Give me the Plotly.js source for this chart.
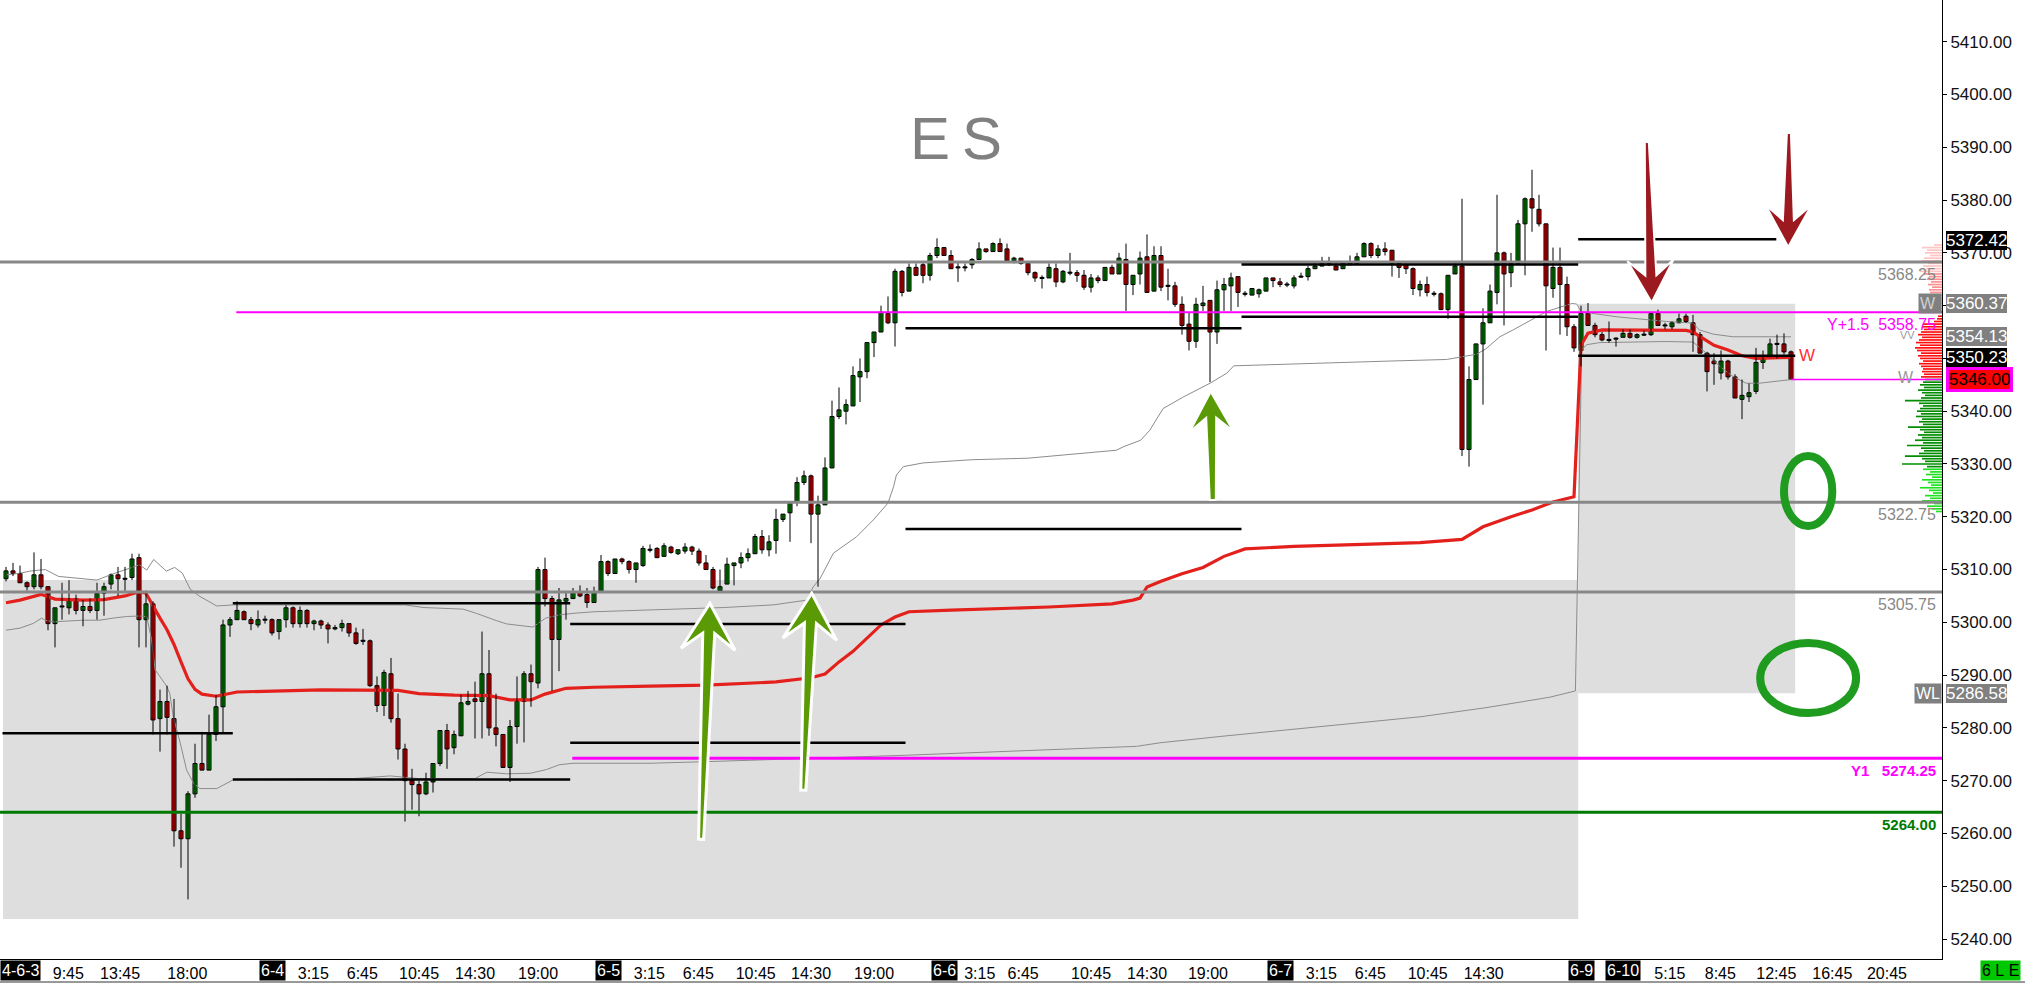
<!DOCTYPE html>
<html>
<head>
<meta charset="utf-8">
<script src="https://cdn.plot.ly/plotly-3.0.1.min.js"></script>
<style>
  html, body { margin: 0; padding: 0; background: #ffffff; }
  #chart { width: 2025px; height: 983px; }
</style>
</head>
<body>
<div id="chart"></div>
<script>
// ES 30-minute bars, 6-3 through 6-10 (bar index on the x axis)
const opens = [
  5308.25,5309.75,5309.25,5307.5,5306.75,5309.0,5306.75,5299.75,5303.0,5302.75,
  5304.5,5302.25,5303.0,5302.25,5305.5,5307.25,5309.0,5308.25,5308.5,5312.25,
  5300.5,5303.5,5281.75,5285.0,5281.75,5260.5,5259.0,5267.5,5273.25,5272.0,
  5278.75,5284.0,5299.5,5300.5,5302.0,5300.5,5299.5,5300.5,5300.5,5298.25,
  5300.5,5302.75,5299.75,5302.25,5299.75,5300.25,5299.5,5298.75,5299.0,5299.75,
  5298.0,5296.5,5296.5,5288.0,5284.25,5290.25,5281.75,5276.0,5270.0,5269.25,
  5267.5,5269.75,5273.25,5279.5,5276.25,5278.5,5284.5,5285.5,5285.0,5290.25,
  5280.0,5278.75,5272.5,5280.25,5285.0,5290.25,5288.5,5310.0,5304.5,5296.75,
  5304.0,5304.5,5305.75,5305.25,5303.75,5305.75,5311.5,5309.25,5312.0,5311.5,
  5310.0,5310.75,5313.75,5314.0,5312.5,5314.25,5313.0,5313.5,5314.25,5313.5,
  5311.25,5310.0,5306.0,5307.25,5310.75,5311.25,5312.25,5313.0,5316.25,5313.75,
  5315.5,5319.5,5320.75,5322.75,5326.5,5327.75,5320.5,5322.25,5329.25,5339.0,
  5340.0,5341.0,5346.5,5347.5,5353.0,5355.0,5358.5,5356.75,5366.5,5362.75,
  5367.25,5367.75,5365.75,5369.5,5371.0,5369.5,5367.25,5367.25,5367.75,5368.75,
  5370.75,5370.25,5371.75,5370.75,5368.5,5369.0,5368.0,5366.25,5365.25,5365.25,
  5367.0,5364.5,5366.25,5366.25,5365.75,5363.5,5365.25,5364.75,5367.25,5366.0,
  5368.75,5364.0,5366.0,5369.25,5362.75,5369.5,5363.75,5363.75,5360.25,5356.5,
  5353.25,5360.0,5361.0,5355.0,5363.0,5363.75,5365.5,5362.25,5362.0,5362.25,
  5362.75,5365.25,5364.5,5364.0,5363.75,5365.5,5365.5,5367.0,5367.5,5368.0,
  5367.5,5367.0,5367.75,5368.0,5369.25,5371.75,5369.5,5370.75,5370.5,5368.0,
  5367.75,5367.0,5363.0,5364.0,5362.25,5362.25,5359.25,5366.0,5367.5,5332.75,
  5346.0,5352.75,5356.75,5362.5,5370.0,5366.25,5368.0,5375.5,5380.25,5378.25,
  5375.5,5363.25,5367.25,5364.0,5356.0,5351.5,5358.5,5356.25,5354.5,5353.5,
  5353.75,5354.0,5354.75,5354.0,5354.5,5354.5,5358.5,5356.25,5356.0,5356.75,
  5358.0,5356.75,5354.5,5351.0,5349.5,5347.25,5349.5,5346.5,5342.25,5342.75,
  5343.75,5349.25,5350.25,5352.75,5352.75,5351.25
];
const highs = [
  5310.5,5311.25,5310.75,5307.75,5313.25,5312.0,5306.75,5302.75,5307.5,5308.0,
  5305.25,5304.25,5304.5,5307.5,5307.5,5309.25,5310.5,5310.5,5313.0,5313.0,
  5306.0,5304.0,5287.25,5288.0,5285.5,5263.75,5268.0,5277.0,5279.25,5282.5,
  5286.25,5300.5,5301.0,5304.0,5302.25,5301.0,5302.25,5301.25,5300.75,5300.5,
  5303.25,5303.0,5303.0,5302.5,5300.5,5300.5,5300.0,5299.5,5300.5,5299.75,
  5299.0,5298.75,5296.75,5289.75,5291.0,5293.25,5286.5,5277.0,5272.25,5270.0,
  5271.5,5273.25,5279.5,5280.75,5279.5,5286.25,5287.0,5288.75,5298.25,5294.75,
  5286.5,5278.75,5281.5,5289.75,5290.75,5292.0,5310.5,5312.25,5305.0,5306.5,
  5305.75,5306.5,5307.0,5306.5,5306.75,5312.75,5311.75,5312.0,5312.25,5311.75,
  5311.25,5314.5,5314.75,5314.25,5315.0,5314.5,5313.75,5315.0,5314.5,5314.0,
  5312.75,5310.5,5310.0,5312.25,5311.25,5313.25,5314.0,5316.75,5317.5,5316.5,
  5321.5,5320.5,5322.75,5327.5,5328.75,5328.0,5324.0,5331.25,5342.0,5344.5,
  5342.25,5348.5,5350.0,5353.0,5355.0,5360.0,5361.75,5367.0,5366.75,5368.0,
  5368.0,5368.25,5370.0,5372.75,5371.0,5370.5,5368.25,5368.0,5369.0,5372.0,
  5370.75,5372.0,5372.75,5371.75,5369.25,5369.0,5368.25,5366.5,5365.75,5368.0,
  5368.0,5366.75,5370.0,5366.75,5366.75,5366.0,5365.75,5367.25,5367.75,5370.0,
  5371.75,5365.75,5370.25,5373.5,5371.25,5371.25,5367.0,5364.5,5361.75,5358.75,
  5361.5,5363.75,5361.0,5364.75,5365.25,5366.25,5365.5,5362.75,5363.25,5363.25,
  5365.25,5365.25,5365.25,5364.5,5365.75,5366.25,5367.5,5368.25,5369.25,5369.25,
  5368.0,5368.25,5369.5,5370.0,5372.0,5372.0,5371.5,5372.0,5370.5,5368.25,
  5368.0,5367.25,5364.75,5365.5,5362.75,5362.5,5365.75,5368.0,5380.25,5348.5,
  5352.75,5359.5,5364.0,5381.0,5370.25,5370.0,5376.25,5380.5,5385.75,5381.0,
  5375.5,5371.0,5371.0,5365.5,5356.5,5360.0,5360.5,5356.75,5355.0,5357.0,
  5354.0,5355.5,5355.5,5354.75,5355.25,5358.5,5359.25,5356.75,5357.0,5358.5,
  5358.5,5358.25,5355.0,5351.25,5351.0,5351.5,5349.75,5347.0,5346.0,5345.25,
  5352.0,5351.5,5353.75,5354.5,5354.75,5351.5
];
const lows = [
  5307.75,5308.75,5307.5,5306.0,5306.25,5306.25,5298.5,5295.25,5300.5,5301.5,
  5301.5,5299.25,5301.75,5300.5,5301.25,5306.25,5305.0,5306.0,5308.0,5295.25,
  5295.25,5278.75,5275.5,5278.75,5257.5,5253.5,5247.5,5266.75,5272.0,5272.0,
  5277.5,5279.0,5297.25,5300.5,5300.5,5298.5,5299.0,5299.75,5297.5,5296.75,
  5299.0,5299.0,5299.0,5299.0,5298.5,5298.75,5296.0,5298.5,5298.25,5297.25,
  5295.75,5295.75,5287.75,5283.0,5282.25,5281.0,5274.0,5262.25,5264.5,5263.25,
  5267.25,5267.75,5272.75,5272.25,5275.0,5278.5,5284.25,5278.0,5278.0,5278.5,
  5276.5,5272.5,5269.75,5277.0,5277.25,5284.0,5287.5,5303.0,5287.0,5290.75,
  5300.5,5304.5,5304.75,5302.75,5303.75,5305.75,5308.75,5309.25,5311.0,5309.25,
  5307.5,5310.5,5313.25,5312.25,5312.5,5313.0,5312.75,5313.0,5312.75,5310.75,
  5310.0,5306.25,5306.0,5307.25,5307.0,5310.25,5311.5,5313.0,5313.0,5312.5,
  5313.0,5319.0,5315.25,5322.0,5326.0,5315.0,5306.75,5322.25,5329.25,5338.5,
  5337.5,5341.0,5341.75,5346.25,5350.25,5355.0,5356.5,5352.25,5361.75,5362.75,
  5365.75,5364.25,5364.75,5369.0,5369.5,5367.0,5364.5,5366.5,5367.0,5368.75,
  5370.0,5370.25,5370.25,5368.5,5368.0,5367.75,5365.75,5364.5,5363.25,5365.25,
  5363.5,5364.25,5365.75,5364.5,5363.0,5362.5,5364.25,5364.75,5366.0,5366.0,
  5359.0,5362.0,5364.0,5362.5,5362.75,5362.75,5361.0,5359.75,5354.5,5351.5,
  5352.0,5359.0,5345.5,5352.75,5359.0,5359.0,5359.75,5361.75,5362.0,5361.5,
  5362.75,5363.5,5363.5,5363.5,5363.25,5365.25,5364.75,5367.0,5367.5,5367.5,
  5366.75,5367.0,5367.75,5368.0,5369.25,5369.0,5369.0,5369.5,5365.5,5365.25,
  5366.0,5362.0,5361.75,5361.75,5361.75,5359.25,5357.5,5366.0,5331.5,5329.5,
  5346.0,5341.25,5356.75,5360.25,5356.25,5363.5,5368.0,5365.75,5374.0,5375.0,
  5351.5,5361.5,5354.5,5354.25,5351.25,5348.5,5356.25,5354.0,5353.25,5353.0,
  5352.25,5354.0,5353.75,5353.75,5354.25,5354.25,5356.25,5355.5,5355.5,5356.75,
  5356.75,5351.25,5351.0,5343.75,5345.0,5346.0,5346.0,5342.5,5338.5,5341.75,
  5343.25,5348.0,5350.25,5350.0,5350.75,5346.0
];
const closes = [
  5309.75,5309.25,5307.5,5306.75,5309.0,5306.75,5299.75,5302.75,5303.0,5304.5,
  5302.25,5303.0,5302.25,5305.5,5306.75,5309.0,5308.25,5308.25,5312.0,5300.5,
  5303.5,5281.5,5285.0,5282.0,5260.5,5259.0,5267.5,5273.25,5272.0,5278.75,
  5284.0,5299.5,5300.5,5302.25,5300.5,5299.75,5300.5,5300.5,5298.0,5300.5,
  5302.75,5299.75,5302.25,5299.75,5300.25,5299.5,5298.75,5299.0,5299.75,5298.0,
  5296.0,5296.5,5288.0,5284.25,5290.5,5281.75,5276.0,5270.0,5269.25,5267.5,
  5269.75,5273.25,5279.5,5276.0,5278.75,5284.75,5285.0,5285.0,5290.25,5280.0,
  5278.75,5272.5,5280.25,5285.0,5290.25,5288.75,5310.0,5304.5,5296.75,5304.25,
  5304.5,5305.75,5305.0,5303.75,5305.75,5311.5,5309.25,5312.0,5311.5,5310.0,
  5311.25,5314.0,5313.75,5312.25,5314.5,5313.25,5313.75,5314.25,5313.5,5311.25,
  5310.0,5306.5,5306.75,5311.0,5311.25,5312.25,5313.0,5316.25,5313.75,5315.25,
  5319.5,5320.5,5322.75,5326.5,5327.75,5320.5,5322.25,5329.25,5339.0,5340.25,
  5341.25,5346.75,5347.5,5353.0,5355.0,5358.75,5356.75,5366.5,5362.5,5367.25,
  5365.75,5365.75,5369.5,5371.0,5369.5,5367.0,5367.25,5367.25,5368.75,5370.75,
  5370.25,5371.75,5370.25,5368.5,5369.0,5368.0,5366.25,5365.25,5365.25,5367.25,
  5364.5,5366.5,5366.25,5365.75,5363.5,5365.25,5364.75,5367.25,5366.0,5369.0,
  5364.0,5365.75,5369.0,5362.5,5369.5,5363.5,5363.75,5360.25,5356.25,5353.25,
  5360.25,5360.5,5355.0,5363.0,5364.0,5365.25,5362.5,5362.25,5363.25,5363.0,
  5365.25,5364.75,5364.0,5364.0,5365.25,5365.5,5367.0,5367.5,5368.0,5367.75,
  5366.75,5368.0,5368.0,5369.25,5371.75,5369.5,5370.75,5370.25,5368.0,5367.25,
  5367.0,5363.25,5364.0,5362.5,5362.25,5359.25,5365.75,5367.5,5332.75,5346.0,
  5352.75,5356.75,5362.75,5370.0,5366.0,5368.0,5375.5,5380.25,5378.5,5375.5,
  5363.75,5367.25,5364.0,5356.0,5352.0,5358.5,5356.25,5354.5,5353.5,5353.5,
  5353.75,5354.75,5354.0,5354.5,5354.5,5358.5,5356.25,5356.25,5356.75,5357.5,
  5357.0,5354.5,5351.0,5347.5,5349.0,5349.5,5346.5,5342.5,5343.0,5343.5,
  5349.25,5350.25,5352.75,5352.75,5351.25,5346.0
];

// Volume-weighted average price and its bands (bar index, price)
const vwapX = [0,2,5,7,11,14,17,19,20,21,22,23,24,25,26,27,28,30,33,45,56,59,64,69,72,75,77,80,84,92,100,110,115,117,119,121,123,125,127,129,135,149,158,161,162,163,165,168,171,174,177,184,195,202,208,211,215,218,221,224,225,226,228,235,240,241,242,243,244,246,248,250,252,255];
const vwapY = [5303.7,5304.2,5305.3,5304.4,5304.2,5304.3,5305.0,5305.8,5305.5,5303.0,5300.8,5298.6,5295.8,5292.5,5289.3,5287.3,5286.4,5286.0,5286.8,5287.2,5287.1,5286.5,5286.2,5286.1,5285.3,5285.3,5286.4,5287.5,5287.7,5287.9,5288.1,5288.7,5289.5,5290.2,5292.5,5294.5,5297.0,5299.5,5301.0,5302.0,5302.3,5302.9,5303.5,5304.2,5304.6,5306.7,5307.8,5309.2,5310.4,5312.5,5313.9,5314.4,5314.8,5315.1,5315.7,5318.1,5320.0,5321.3,5322.8,5323.8,5352.5,5354.8,5355.4,5355.4,5355.3,5355.0,5354.2,5353.3,5352.5,5351.6,5350.5,5350.0,5350.1,5350.2];
const upperX = [0,2,3.4,5.6,7.5,10.6,13,14.9,17.7,19.1,20.1,21.1,22.9,24.1,25.2,26.3,27.7,30.1,32.5,57,59.7,61.6,65.3,67.2,68.7,70.1,71.5,73.9,75.3,76,77.1,79,81,84,92,95.3,102.5,109.6,114.4,115.3,116.3,118.2,119.2,121.5,123.9,126,126.8,127.2,128.2,131,137.9,146,158.6,159.7,162.1,163.4,165.3,168.2,172,174.4,175.4,182,185.8,197.7,205.8,207.7,210.1,211.5,213.4,215.3,218.2,220.1,222,223.7,224.4,225,225.8,230,232.4,237.2,241,241.9,243.9,246.7,255];
const upperY = [5309.0,5309.3,5309.7,5310.0,5308.7,5308.3,5308.0,5309.0,5310.2,5310.9,5309.9,5311.9,5309.7,5310.4,5309.3,5306.3,5304.9,5303.1,5303.3,5303.3,5302.8,5302.7,5302.5,5301.7,5300.9,5300.3,5299.7,5299.3,5299.1,5299.8,5300.8,5301.4,5301.7,5302.0,5302.3,5302.4,5302.8,5303.3,5304.2,5306.7,5308.3,5313.1,5314.0,5316.2,5319.4,5322.6,5325.7,5327.9,5329.5,5330.2,5330.8,5331.1,5332.6,5333.3,5334.5,5336.4,5340.5,5342.7,5345.3,5347.2,5348.6,5348.9,5349.1,5349.5,5349.8,5350.3,5350.8,5351.9,5354.1,5355.4,5357.6,5358.9,5359.7,5360.4,5360.3,5358.9,5358.7,5357.9,5357.6,5357.0,5356.7,5355.4,5354.6,5354.1,5354.1];
const lowerX = [0,2,3.9,5.1,5.6,6.8,11,13.4,15.3,17.2,19.1,20.1,20.8,21.3,22,23,23.4,23.9,24.9,25.8,26.8,27.7,30.1,32.5,44.9,49.6,54.9,58.9,67,68.7,71.5,74.9,77.2,79,81,92,100,128.3,161.5,165,174.4,183.6,202,211.3,220.5,224.2,225.1,225.8,227.7,237.2,241,242.9,244.9,246.7,248.6,250.5,255];
const lowerY = [5298.5,5298.9,5299.8,5300.8,5300.4,5300.1,5300.4,5300.4,5300.8,5301.1,5301.2,5301.1,5296.7,5291.0,5289.7,5287.8,5286.5,5282.1,5277.1,5272.0,5269.5,5268.5,5268.5,5270.2,5270.4,5270.4,5270.9,5270.4,5270.4,5271.6,5271.3,5271.4,5272.1,5273.0,5273.3,5273.3,5273.6,5274.8,5276.5,5277.2,5278.5,5279.7,5282.1,5283.8,5285.8,5287.0,5351.6,5352.6,5353.0,5353.2,5353.1,5351.0,5348.4,5346.6,5345.3,5345.3,5346.0];

// Volume profile: bar length per half-point level, from 5371.5 down to 5321.0
const profileTop = 5371.5;
const profileLen = [8,20,15,17,12,18,20,14,19,16,22,18,13,15,11,14,10,13,12,9,14,11,16,12,10,6,0,4,5,8,
  19,20,18,21,24,20,23,26,22,27,25,21,24,22,19,23,21,19,20,18,21,17,
  19,22,18,24,20,17,21,37,23,19,22,25,21,26,20,23,19,34,22,18,24,20,27,19,35,21,18,23,37,20,17,40,15,
  19,12,16,10,20,14,11,22,13,9,17,12,20,8,15,10,6];

// Horizontal reference levels
const greyLevels = [5368.25, 5322.75, 5305.75];
const yHalfLevel = 5358.75;
const y1Level = 5274.25;
const supportLevel = 5264.00;
const lastPrice = 5346.00;
// Session high/low segments: [startIndex, endIndex, price]
const sessionLines = [
  [-0.5, 32.4, 5279.0], [32.4, 80.6, 5303.6], [32.4, 80.6, 5270.2],
  [80.6, 128.5, 5299.7], [80.6, 128.5, 5277.2], [128.5, 176.5, 5355.7],
  [128.5, 176.5, 5317.7], [176.5, 224.6, 5367.8], [176.5, 224.6, 5357.9],
  [224.6, 252.9, 5372.6], [224.6, 255.6, 5350.5]
];
// Weekly value areas: [startIndex, endIndex, low, high]
const valueBoxes = [[-0.43, 224.6, 5243.8, 5308.0], [224.6, 255.6, 5286.58, 5360.37]];

// Price markers on the right axis
const axisMarks = [
  {v: 5372.42, bg: '#000000', fg: '#ffffff'},
  {v: 5360.37, bg: '#808080', fg: '#ffffff'},
  {v: 5354.13, bg: '#808080', fg: '#ffffff'},
  {v: 5350.23, bg: '#000000', fg: '#ffffff'},
  {v: 5346.00, bg: '#ff0000', fg: '#000000', border: '#ff00ff'},
  {v: 5286.58, bg: '#808080', fg: '#ffffff'}
];

// Price scale labels (the ones under the 5350.23 / 5360.37 markers stay blank)
const yTickVals = [5240,5250,5260,5270,5280,5290,5300,5310,5320,5330,5340,5350,5360,5370,5380,5390,5400,5410];
const yTickText = ['5240.00','5250.00','5260.00','5270.00','5280.00','5290.00','5300.00','5310.00','5320.00','5330.00','5340.00','','','5370.00','5380.00','5390.00','5400.00','5410.00'];

// Time axis labels
const timeTickIdx = [8.9,16.3,25.9,43.9,50.9,59,67,76,91.9,98.9,107.1,115,124,139.1,145.3,155,163,171.7,187.9,194.9,203.1,211.1,237.7,244.9,252.9,260.9,268.7];
const timeTickText = ['9:45','13:45','18:00','3:15','6:45','10:45','14:30','19:00','3:15','6:45','10:45','14:30','19:00','3:15','6:45','10:45','14:30','19:00','3:15','6:45','10:45','14:30','5:15','8:45','12:45','16:45','20:45'];
const dateIdx = [2.0, 38.1, 86, 134, 182, 225.1, 231];
const dateText = ['4-6-3', '6-4', '6-5', '6-6', '6-7', '6-9', '6-10'];

// ---------- geometry ----------
const W = 2025, H = 983;
const M = {l: 0, r: 83, t: 0, b: 24};
const PW = W - M.l - M.r, PH = H - M.t - M.b;
const XR = [-0.857, 276.571];
const YR = [5236.21, 5417.91];
const toPx = ([x, y]) => [(x - XR[0]) / (XR[1] - XR[0]) * PW, (YR[1] - y) / (YR[1] - YR[0]) * PH];
const fromPx = ([px, py]) => [XR[0] + px / PW * (XR[1] - XR[0]), YR[1] - py / PH * (YR[1] - YR[0])];

const FONT = 'Liberation Sans, Arial, sans-serif';
const UP = '#00a000', DOWN = '#ff0000';

// ---------- traces ----------
const idx = opens.map((_, i) => i);
const bodyBase = [], bodyLen = [], bodyCol = [];
idx.forEach(i => {
  const o = opens[i], c = closes[i];
  const lo = Math.min(o, c), len = Math.abs(c - o);
  if (len < 0.2) { bodyBase.push(lo - 0.1); bodyLen.push(0.2); }
  else { bodyBase.push(lo); bodyLen.push(len); }
  bodyCol.push(c > o ? UP : (c < o ? DOWN : '#000000'));
});
const wickX = [], wickY = [];
idx.forEach(i => { wickX.push(i, i, null); wickY.push(lows[i], highs[i], null); });

const profY = profileLen.map((_, k) => profileTop - 0.5 * k);
const profCol = profY.map(p => p >= 5366.5 ? '#ffc4c4' : p >= 5359 ? '#ff9090' : p > 5346 ? '#ff1010' : p >= 5329.5 ? '#008c00' : '#20e020');

const traces = [
  {type: 'bar', orientation: 'h', x: profileLen, y: profY, base: 0, width: 0.32,
   xaxis: 'x2', yaxis: 'y', marker: {color: profCol, line: {width: 0}}, hoverinfo: 'skip'},
  {type: 'scatter', mode: 'lines', x: upperX, y: upperY, line: {color: '#8c8c8c', width: 1}, hoverinfo: 'skip'},
  {type: 'scatter', mode: 'lines', x: lowerX, y: lowerY, line: {color: '#8c8c8c', width: 1}, hoverinfo: 'skip'},
  {type: 'scatter', mode: 'lines', x: vwapX, y: vwapY, line: {color: '#e3201b', width: 3.2}, hoverinfo: 'skip'},
  {type: 'scatter', mode: 'lines', x: wickX, y: wickY, line: {color: '#000000', width: 1}, hoverinfo: 'skip'},
  {type: 'bar', x: idx, y: bodyLen, base: bodyBase, width: 0.58,
   marker: {color: bodyCol, line: {color: '#000000', width: 1}}, hoverinfo: 'skip'}
];

// ---------- shapes ----------
const shapes = [];
valueBoxes.forEach(([x0, x1, y0, y1]) => shapes.push({
  type: 'rect', xref: 'x', yref: 'y', x0, x1, y0, y1, layer: 'below',
  fillcolor: '#dedede', line: {width: 0}
}));
greyLevels.forEach(v => shapes.push({type: 'line', xref: 'paper', yref: 'y', x0: 0, x1: 1, y0: v, y1: v, line: {color: '#888888', width: 3}}));
shapes.push({type: 'line', xref: 'x', yref: 'y', x0: 32.9, x1: XR[1], y0: yHalfLevel, y1: yHalfLevel, line: {color: '#ff00ff', width: 2}});
shapes.push({type: 'line', xref: 'x', yref: 'y', x0: 80.9, x1: XR[1], y0: y1Level, y1: y1Level, line: {color: '#ff00ff', width: 3}});
shapes.push({type: 'line', xref: 'paper', yref: 'y', x0: 0, x1: 1, y0: supportLevel, y1: supportLevel, line: {color: '#007a00', width: 3}});
shapes.push({type: 'line', xref: 'x', yref: 'y', x0: 255, x1: XR[1], y0: lastPrice, y1: lastPrice, line: {color: '#ff00ff', width: 1.5}});
sessionLines.forEach(([x0, x1, v]) => shapes.push({type: 'line', xref: 'x', yref: 'y', x0, x1, y0: v, y1: v, line: {color: '#000000', width: 2.5}}));

// Hand-drawn style arrows: tail/tip in (bar index, price), sizes in pixels
const arrows = [
  {tail: [99.3, 5258.9], tip: [100.55, 5303.6], head: 46, half: 27, notch: 30, shaft: 6, tailW: 2.5, color: '#5a9a04', edge: 3},
  {tail: [113.9, 5268.2], tip: [115.1, 5305.5], head: 46, half: 27, notch: 30, shaft: 6, tailW: 2.5, color: '#5a9a04', edge: 3},
  {tail: [172.4, 5323.2], tip: [172.1, 5343.7], head: 40, half: 22, notch: 26, shaft: 5, tailW: 3, color: '#5a9a04', edge: 2},
  {tail: [234.4, 5391.0], tip: [235.1, 5360.6], head: 42, half: 23, notch: 27, shaft: 5.5, tailW: 2, color: '#9c1a1f', edge: 2},
  {tail: [254.7, 5392.7], tip: [254.6, 5371.1], head: 42, half: 23, notch: 27, shaft: 5.5, tailW: 2, color: '#9c1a1f', edge: 2}
];
function arrowPath(a) {
  const [tx, ty] = toPx(a.tail), [px, py] = toPx(a.tip);
  let dx = px - tx, dy = py - ty;
  const L = Math.hypot(dx, dy); dx /= L; dy /= L;
  const nx = -dy, ny = dx;
  const pts = [
    [px, py],
    [px - dx * a.head + nx * a.half, py - dy * a.head + ny * a.half],
    [px - dx * a.notch + nx * a.shaft, py - dy * a.notch + ny * a.shaft],
    [tx + nx * a.tailW, ty + ny * a.tailW],
    [tx - nx * a.tailW, ty - ny * a.tailW],
    [px - dx * a.notch - nx * a.shaft, py - dy * a.notch - ny * a.shaft],
    [px - dx * a.head - nx * a.half, py - dy * a.head - ny * a.half]
  ];
  return 'M' + pts.map(p => fromPx(p).join(',')).join('L') + 'Z';
}
arrows.forEach(a => shapes.push({type: 'path', xref: 'x', yref: 'y', path: arrowPath(a),
  fillcolor: a.color, line: {color: '#ffffff', width: a.edge}}));

// Target rings
const rings = [[254.0, 260.9, 5318.25, 5331.5], [250.6, 264.3, 5282.8, 5296.1]];
rings.forEach(([x0, x1, y0, y1]) => shapes.push({type: 'circle', xref: 'x', yref: 'y', x0, x1, y0, y1,
  line: {color: '#1f9b1f', width: 8}, fillcolor: 'rgba(0,0,0,0)'}));

// bottom border of the time scale
shapes.push({type: 'line', xref: 'paper', yref: 'paper', x0: 0, x1: W / PW, y0: -23 / PH, y1: -23 / PH, line: {color: '#333333', width: 1}});

// ---------- annotations ----------
const ann = [];
ann.push({xref: 'x', yref: 'y', x: 135.7, y: 5391.7, text: 'E\u2009S', showarrow: false,
  font: {family: FONT, size: 60, color: '#808080'}});

axisMarks.forEach(m => ann.push({xref: 'paper', yref: 'y', x: 1, y: m.v, xanchor: 'left', xshift: 4,
  text: m.v.toFixed(2), showarrow: false, bgcolor: m.bg, borderpad: 0,
  bordercolor: m.border || 'rgba(0,0,0,0)', borderwidth: m.border ? 3 : 0,
  font: {family: FONT, size: 17, color: m.fg}}));

const levelText = (v, text, color, size, bold) => ({xref: 'paper', yref: 'y', x: 1, y: v, xanchor: 'right', yanchor: 'top',
  xshift: -4, yshift: -2, text: bold ? '<b>' + text + '</b>' : text, showarrow: false,
  font: {family: FONT, size, color}});
greyLevels.forEach(v => ann.push(levelText(v, v.toFixed(2), '#888888', 16, false)));
ann.push(levelText(yHalfLevel, 'Y+1.5\u00a0\u00a0' + yHalfLevel.toFixed(2), '#ff00ff', 16, false));
ann.push(levelText(y1Level, 'Y1\u00a0\u00a0\u00a0' + y1Level.toFixed(2), '#ff00ff', 15, true));
ann.push(levelText(supportLevel, supportLevel.toFixed(2), '#007a00', 15, true));

// weekly band tags
ann.push({xref: 'paper', yref: 'y', x: 1, y: 5360.37, xanchor: 'right', text: 'W\u00a0', showarrow: false,
  bgcolor: '#808080', font: {family: FONT, size: 16, color: '#d0d0d0'}});
ann.push({xref: 'paper', yref: 'y', x: 1, y: 5286.58, xanchor: 'right', text: 'WL', showarrow: false,
  bgcolor: '#808080', font: {family: FONT, size: 16, color: '#ffffff'}});
ann.push({xref: 'paper', yref: 'y', x: 1, y: 5354.4, xanchor: 'right', xshift: -25, text: 'VV', showarrow: false,
  font: {family: FONT, size: 11, color: '#999999'}});
ann.push({xref: 'paper', yref: 'y', x: 1, y: 5346.3, xanchor: 'right', xshift: -26, text: 'W', showarrow: false,
  font: {family: FONT, size: 16, color: '#999999'}});
ann.push({xref: 'x', yref: 'y', x: 255.9, y: 5350.5, xanchor: 'left', text: 'W', showarrow: false,
  font: {family: FONT, size: 17, color: '#ff3030'}});

// session date boxes on the time scale
dateIdx.forEach((x, k) => ann.push({xref: 'x', yref: 'paper', x, y: 0, yanchor: 'top', yshift: -1,
  text: dateText[k], showarrow: false, bgcolor: '#000000', borderpad: 1,
  font: {family: FONT, size: 16, color: '#ffffff'}}));
ann.push({xref: 'paper', yref: 'paper', x: 1, y: 0, xanchor: 'left', yanchor: 'top', xshift: 38, yshift: -1,
  text: '6\u00a0L\u00a0E', showarrow: false, bgcolor: '#00c800', borderpad: 1,
  font: {family: FONT, size: 16, color: '#000000'}});

const layout = {
  width: W, height: H, margin: M,
  paper_bgcolor: '#ffffff', plot_bgcolor: '#ffffff',
  showlegend: false, barmode: 'overlay',
  font: {family: FONT, size: 16, color: '#000000'},
  xaxis: {range: XR, showgrid: false, zeroline: false, showline: true, linecolor: '#000000', linewidth: 1,
    tickmode: 'array', tickvals: timeTickIdx, ticktext: timeTickText, ticks: '',
    tickfont: {family: FONT, size: 16, color: '#000000'}, fixedrange: true},
  xaxis2: {overlaying: 'x', range: [PW, 0], visible: false, fixedrange: true},
  yaxis: {range: YR, side: 'right', showgrid: false, zeroline: false, showline: true, linecolor: '#000000', linewidth: 1,
    tickmode: 'array', tickvals: yTickVals, ticktext: yTickText, ticks: 'outside', ticklen: 4, tickcolor: '#000000',
    tickfont: {family: FONT, size: 17, color: '#111111'}, fixedrange: true},
  shapes, annotations: ann
};

Plotly.newPlot('chart', traces, layout, {staticPlot: true, displayModeBar: false});
</script>
</body>
</html>
